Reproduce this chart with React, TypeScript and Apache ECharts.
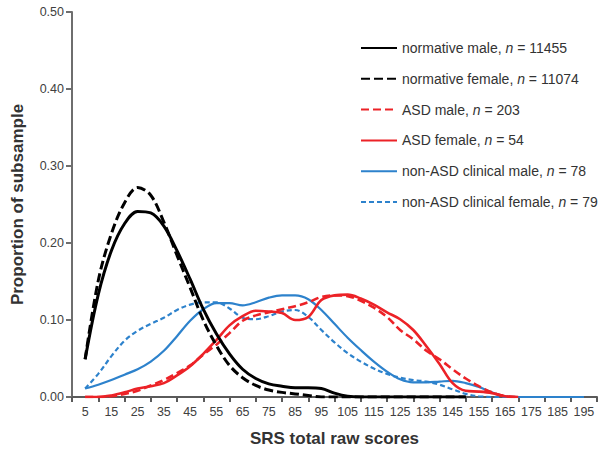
import React, { useEffect, useRef } from "react";
import * as echarts from "echarts";

const scores = [5, 10, 15, 20, 25, 30, 35, 40, 45, 50, 55, 60, 65, 70, 75, 80, 85, 90, 95, 100, 105, 110, 115, 120, 125, 130, 135, 140, 145, 150, 155, 160, 165, 170, 175, 180, 185, 190, 195];

const tickLabels = ["5", "15", "25", "35", "45", "55", "65", "75", "85", "95", "105", "115", "125", "135", "145", "155", "165", "175", "185", "195"];

const normativeMale = [0.049, 0.133, 0.19, 0.225, 0.241, 0.239, 0.222, 0.19, 0.153, 0.114, 0.082, 0.056, 0.036, 0.024, 0.017, 0.014, 0.012, 0.012, 0.011, 0.005, 0.001, 0, 0, 0, 0, 0, 0, 0, 0, 0, null, null, null, null, null, null, null, null, null];
const normativeFemale = [0.049, 0.151, 0.212, 0.252, 0.272, 0.262, 0.227, 0.184, 0.142, 0.1, 0.067, 0.041, 0.025, 0.015, 0.009, 0.006, 0.004, 0.002, 0, 0, 0, 0, 0, 0, 0, 0, 0, 0, 0, 0, null, null, null, null, null, null, null, null, null];
const asdMale = [0, 0, 0.001, 0.004, 0.008, 0.015, 0.022, 0.031, 0.041, 0.055, 0.068, 0.083, 0.099, 0.106, 0.11, 0.114, 0.118, 0.123, 0.13, 0.132, 0.131, 0.125, 0.116, 0.104, 0.087, 0.075, 0.06, 0.049, 0.036, 0.024, 0.014, 0.006, 0.001, 0, null, null, null, null, null];
const asdFemale = [0, 0, 0.002, 0.006, 0.011, 0.014, 0.018, 0.028, 0.04, 0.056, 0.074, 0.093, 0.105, 0.112, 0.111, 0.109, 0.1, 0.104, 0.126, 0.132, 0.133, 0.128, 0.12, 0.11, 0.101, 0.087, 0.066, 0.043, 0.018, 0.008, 0.007, 0.005, 0.001, 0, null, null, null, null, null];
const clinicalMale = [0.011, 0.016, 0.022, 0.029, 0.036, 0.046, 0.06, 0.079, 0.099, 0.114, 0.122, 0.122, 0.119, 0.123, 0.129, 0.132, 0.132, 0.127, 0.113, 0.095, 0.077, 0.061, 0.046, 0.033, 0.023, 0.019, 0.019, 0.02, 0.021, 0.018, 0.013, 0.006, 0.001, 0, 0, 0, 0, 0, 0];
const clinicalFemale = [0.011, 0.03, 0.053, 0.073, 0.086, 0.095, 0.103, 0.113, 0.12, 0.123, 0.123, 0.115, 0.103, 0.101, 0.105, 0.111, 0.113, 0.104, 0.087, 0.071, 0.057, 0.046, 0.037, 0.03, 0.025, 0.022, 0.02, 0.016, 0.01, 0.004, 0.001, 0, 0, 0, 0, 0, 0, 0, 0];

const seriesNames = ["normative male", "normative female", "ASD male", "ASD female", "non-ASD clinical male", "non-ASD clinical female"];
const sampleSizes = ["11455", "11074", "203", "54", "78", "79"];

const pairs = (vals: (number | null)[]) => scores.map((s, i) => [s, vals[i]]);

export default function App() {
  const ref = useRef<HTMLDivElement>(null);
  useEffect(() => {
    if (!ref.current) return;
    const chart = echarts.init(ref.current, null, { renderer: "svg" });
    const black = "#000000";
    const red = "#ec2227";
    const blue = "#2d82cc";
    const mk = (name: string, vals: (number | null)[], color: string, width: number, type: any) => ({
      name,
      type: "line",
      xAxisIndex: 0,
      data: pairs(vals),
      smooth: 0.35,
      symbol: "none",
      showSymbol: false,
      connectNulls: false,
      lineStyle: { color, width, type },
      itemStyle: { color },
    });
    const nMap: Record<string, string> = {};
    seriesNames.forEach((n, i) => (nMap[n] = sampleSizes[i]));
    chart.setOption({
      animation: false,
      backgroundColor: "#ffffff",
      textStyle: { fontFamily: "Liberation Sans, Arial, sans-serif" },
      grid: { left: 72, right: 11, top: 12, bottom: 54, containLabel: false },
      legend: {
        data: seriesNames,
        orient: "vertical",
        left: 360,
        top: 41,
        padding: 0,
        itemWidth: 36,
        itemHeight: 14,
        itemGap: 16.8,
        selectedMode: false,
        itemStyle: { opacity: 0 },
        formatter: (name: string) => `{t|${name}, }{i|n}{t| = ${nMap[name]}}`,
        textStyle: {
          color: "#333333",
          fontSize: 14,
          rich: {
            t: { fontSize: 14, color: "#333333", lineHeight: 16, fontFamily: "Liberation Sans, Arial, sans-serif" },
            i: { fontSize: 14, color: "#333333", lineHeight: 16, fontStyle: "italic", fontFamily: "Liberation Sans, Arial, sans-serif" },
          },
        },
      },
      xAxis: [
        {
          type: "value",
          min: 0,
          max: 200,
          interval: 10,
          position: "bottom",
          name: "SRS total raw scores",
          nameLocation: "middle",
          nameGap: 33,
          nameTextStyle: { fontSize: 17, fontWeight: "bold", color: "#333333" },
          axisLine: { show: true, lineStyle: { color: "#5a5a5a", width: 2 } },
          axisTick: { show: true, inside: false, length: 5, lineStyle: { color: "#5a5a5a", width: 2 } },
          axisLabel: { show: false },
          splitLine: { show: false },
        },
        {
          type: "category",
          data: tickLabels,
          position: "bottom",
          boundaryGap: true,
          axisLine: { show: false },
          axisTick: { show: false },
          axisLabel: { show: true, interval: 0, margin: 8, fontSize: 12.5, color: "#404040" },
          splitLine: { show: false },
        },
      ],
      yAxis: {
        type: "value",
        min: 0,
        max: 0.5,
        interval: 0.1,
        name: "Proportion of subsample",
        nameLocation: "middle",
        nameGap: 46,
        nameTextStyle: { fontSize: 17, fontWeight: "bold", color: "#333333" },
        axisLine: { show: true, lineStyle: { color: "#6e6e6e", width: 2 } },
        axisTick: { show: true, inside: false, length: 6, lineStyle: { color: "#6e6e6e", width: 2 } },
        axisLabel: { formatter: (v: number) => v.toFixed(2), fontSize: 12.5, color: "#404040", margin: 8 },
        splitLine: { show: false },
      },
      series: [
        mk("non-ASD clinical female", clinicalFemale, blue, 2.2, [5, 3]),
        mk("non-ASD clinical male", clinicalMale, blue, 2.2, "solid"),
        mk("ASD male", asdMale, red, 2.6, [8, 4]),
        mk("ASD female", asdFemale, red, 2.6, "solid"),
        mk("normative female", normativeFemale, black, 3, [9, 4]),
        mk("normative male", normativeMale, black, 3, "solid"),
      ],
    });
    return () => chart.dispose();
  }, []);
  return <div ref={ref} style={{ width: 608, height: 452, position: "absolute", left: 0, top: 0 }} />;
}
